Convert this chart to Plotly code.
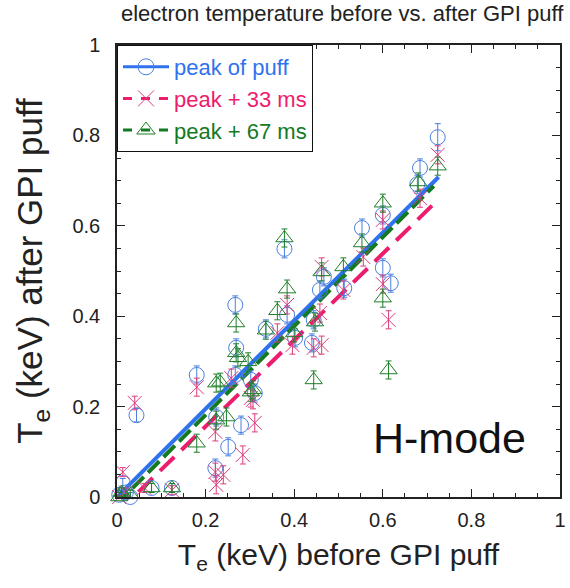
import plotly.graph_objects as go

# ---- data ----
blue_x = [0.724, 0.684, 0.678, 0.600, 0.553, 0.600, 0.618, 0.513, 0.378, 0.467,
          0.458, 0.384, 0.267, 0.336, 0.402, 0.444, 0.440, 0.269, 0.180, 0.267,
          0.302, 0.311, 0.224, 0.280, 0.251, 0.222, 0.044, 0.124, 0.078, 0.013,
          0.005, 0.020, 0.030]
blue_y = [0.796, 0.728, 0.692, 0.624, 0.595, 0.507, 0.473, 0.462, 0.549, 0.487,
          0.458, 0.403, 0.425, 0.372, 0.352, 0.392, 0.341, 0.330, 0.270, 0.270,
          0.259, 0.230, 0.177, 0.159, 0.111, 0.064, 0.181, 0.020, 0.020, 0.031,
          0.005, 0.010, 0.000]
blue_err = [0.03, 0.02, 0.02, 0.02, 0.02, 0.02, 0.02, 0.02, 0.02, 0.02,
            0.02, 0.02, 0.02, 0.02, 0.02, 0.02, 0.02, 0.02, 0.02, 0.02,
            0.02, 0.02, 0.02, 0.02, 0.02, 0.02, 0.015, 0.01, 0.01, 0.01,
            0.01, 0.01, 0.01]

pink_x = [0.724, 0.684, 0.600, 0.556, 0.600, 0.613, 0.511, 0.462, 0.384, 0.362,
          0.396, 0.444, 0.462, 0.458, 0.180, 0.258, 0.307, 0.311, 0.222, 0.284,
          0.222, 0.240, 0.224, 0.040, 0.013, 0.062, 0.124, 0.005, 0.020, 0.302]
pink_y = [0.757, 0.661, 0.613, 0.531, 0.471, 0.392, 0.458, 0.509, 0.425, 0.363,
          0.336, 0.330, 0.336, 0.407, 0.243, 0.263, 0.215, 0.164, 0.144, 0.093,
          0.055, 0.049, 0.027, 0.208, 0.055, 0.020, 0.015, 0.000, 0.010, 0.219]
pink_err = [0.02] * 23 + [0.015, 0.01, 0.01, 0.01, 0.01, 0.01, 0.02]

green_x = [0.724, 0.680, 0.600, 0.553, 0.600, 0.613, 0.511, 0.378, 0.462, 0.384,
           0.362, 0.269, 0.336, 0.400, 0.447, 0.269, 0.273, 0.296, 0.233, 0.307,
           0.302, 0.444, 0.224, 0.224, 0.247, 0.180, 0.124, 0.078, 0.005, 0.010,
           0.030, 0.020]
green_y = [0.732, 0.697, 0.650, 0.562, 0.440, 0.281, 0.509, 0.573, 0.498, 0.460,
           0.412, 0.385, 0.369, 0.363, 0.387, 0.319, 0.308, 0.299, 0.254, 0.237,
           0.232, 0.259, 0.252, 0.170, 0.177, 0.119, 0.020, 0.020, 0.000, 0.010,
           0.005, -0.005]
green_err = [0.02] * 26 + [0.01] * 6

fit_x_blue = [0.0, 0.726]
fit_y_blue = [0.0, 0.708]
fit_x_pink = [0.0, 0.725]
fit_y_pink = [-0.035, 0.658]
fit_x_green = [0.0, 0.715]
fit_y_green = [-0.015, 0.688]

series_names = ["peak of puff", "peak + 33 ms", "peak + 67 ms"]
tick_vals = [0, 0.2, 0.4, 0.6, 0.8, 1]
tick_text = ["0", "0.2", "0.4", "0.6", "0.8", "1"]

# ---- styles ----
C_BLUE_M = "#4a7fe0"
C_BLUE_L = "#2f72ee"
C_PINK_M = "#dc3c7c"
C_PINK_L = "#ee1c6c"
C_GREEN_M = "#1f7f2a"
C_GREEN_L = "#137a22"
FONT = "Liberation Sans, Arial, Helvetica, sans-serif"

fig = go.Figure()

# fit lines
fig.add_trace(go.Scatter(x=fit_x_blue, y=fit_y_blue, mode="lines",
                         line=dict(color=C_BLUE_L, width=4), showlegend=False))
fig.add_trace(go.Scatter(x=fit_x_green, y=fit_y_green, mode="lines",
                         line=dict(color=C_GREEN_L, width=4, dash="16px,6px"),
                         showlegend=False))
fig.add_trace(go.Scatter(x=fit_x_pink, y=fit_y_pink, mode="lines",
                         line=dict(color=C_PINK_L, width=4, dash="20px,10px"),
                         showlegend=False))

def pts(x, y, err, color, symbol, size):
    return go.Scatter(
        x=x, y=y, mode="markers", showlegend=False, cliponaxis=False,
        marker=dict(symbol=symbol, size=size, color=color,
                    line=dict(color=color, width=1)),
        error_y=dict(type="data", array=err, visible=True, color=color,
                     thickness=1, width=3))

fig.add_trace(pts(blue_x, blue_y, blue_err, C_BLUE_M, "circle-open", 15))
fig.add_trace(pts(pink_x, pink_y, pink_err, C_PINK_M, "x-thin-open", 14))
fig.add_trace(pts(green_x, green_y, green_err, C_GREEN_M, "triangle-up-open", 15))

# legend entries
leg = [
    (series_names[0], C_BLUE_L, C_BLUE_M, "circle-open", "solid"),
    (series_names[1], C_PINK_L, C_PINK_M, "x-thin-open", "dash"),
    (series_names[2], C_GREEN_L, C_GREEN_M, "triangle-up-open", "dash"),
]
for name, lc, mc, sym, dash in leg:
    fig.add_trace(go.Scatter(
        x=[None], y=[None], mode="lines+markers",
        name=f"<span style='color:{lc}'>{name}</span>",
        line=dict(color=lc, width=3, dash=dash),
        marker=dict(symbol=sym, size=18, color=mc, line=dict(color=mc, width=1))))

axis_common = dict(
    range=[0, 1], tickvals=tick_vals, ticktext=tick_text,
    ticks="inside", ticklen=8, tickwidth=1, tickcolor="#222",
    showline=True, linecolor="#222", linewidth=1.5, mirror="ticks",
    showgrid=False, zeroline=False, ticklabeloverflow="allow",
    tickfont=dict(family=FONT, size=20, color="#222"),
    minor=dict(dtick=0.05, ticks="inside", ticklen=4, tickcolor="#222",
               showgrid=False),
)

fig.update_layout(
    width=570, height=588,
    margin=dict(l=117, r=4, t=45, b=91),
    paper_bgcolor="white", plot_bgcolor="white",
    font=dict(family=FONT, color="#222"),
    xaxis=dict(**axis_common, ticklabelstandoff=4,
               title=dict(text="T<sub>e</sub> (keV) before GPI puff",
                          font=dict(family=FONT, size=30, color="#222"),
                          standoff=14)),
    yaxis=dict(**axis_common, ticklabelstandoff=11,
               title=dict(text="T<sub>e</sub> (keV) after GPI puff",
                          font=dict(family=FONT, size=35, color="#222"),
                          standoff=19)),
    legend=dict(x=0, y=1, xanchor="left", yanchor="top",
                bordercolor="#111", borderwidth=1, bgcolor="white",
                font=dict(family=FONT, size=22), tracegroupgap=0,
                itemwidth=46),
    showlegend=True,
)

fig.add_annotation(text="electron temperature before vs. after GPI puff",
                   xref="paper", yref="paper", x=0.51, y=1.0, yshift=17,
                   xanchor="center", yanchor="bottom", showarrow=False,
                   font=dict(family=FONT, size=22, color="#222"))
fig.add_annotation(text="H-mode", xref="x", yref="y", x=0.75, y=0.13,
                   xanchor="center", yanchor="middle", showarrow=False,
                   font=dict(family=FONT, size=43, color="#111"))

fig.write_html("out.html")
